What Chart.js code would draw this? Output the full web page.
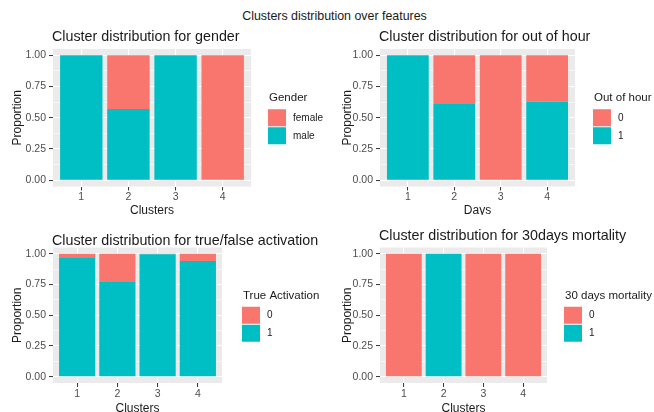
<!DOCTYPE html>
<html>
<head>
<meta charset="utf-8">
<script src="https://cdn.jsdelivr.net/npm/chart.js@4.4.1/dist/chart.umd.min.js"></script>
<style>
  body { margin: 0; background: #fff; width: 654px; height: 412px; overflow: hidden; position: relative; font-family: "Liberation Sans", Arial, sans-serif; }
  #main-title { position: absolute; left: 0; top: 8px; width: 669px; text-align: center; font-size: 12.4px; line-height: 16px; color: #1A1A1A; }
  .cell { position: absolute; width: 327px; overflow: hidden; }
  .cell canvas { display: block; }
</style>
</head>
<body>
<div id="main-title">Clusters distribution over features</div>
<div class="cell" style="left:0;top:24px;height:191px"><canvas id="c1" width="327" height="200"></canvas></div>
<div class="cell" style="left:327px;top:24px;height:191px"><canvas id="c2" width="327" height="200"></canvas></div>
<div class="cell" style="left:0;top:222px;height:190px"><canvas id="c3" width="327" height="200"></canvas></div>
<div class="cell" style="left:327px;top:222px;height:190px"><canvas id="c4" width="327" height="200"></canvas></div>
<script>
// categories and tick labels
const clusters = ['1', '2', '3', '4'];
const yTicks = [0, 0.25, 0.5, 0.75, 1];

// proportions (bottom segment = teal, top segment = red)
const genderMale = [1, 0.57, 1, 0];
const genderFemale = [0, 0.43, 0, 1];
const outOfHour1 = [1, 0.61, 0, 0.63];
const outOfHour0 = [0, 0.39, 1, 0.37];
const activation1 = [0.97, 0.77, 0.995, 0.94];
const activation0 = [0.03, 0.23, 0.005, 0.06];
const mortality1 = [0, 1, 0, 0];
const mortality0 = [1, 0, 1, 1];

const RED = '#F8766D';
const TEAL = '#00BFC4';
const FONT = '"Liberation Sans", Arial, sans-serif';

// minor grid lines sit halfway between the major ticks
const yGrid = [];
yTicks.forEach((v, i) => {
  yGrid.push(v);
  if (i < yTicks.length - 1) yGrid.push((v + yTicks[i + 1]) / 2);
});
const isMajor = v => yTicks.includes(v);

// ggplot look: grey panel, panel title and a side legend
const ggPanel = {
  id: 'ggPanel',
  beforeDraw(chart) {
    const { ctx, chartArea: a } = chart;
    ctx.save();
    ctx.fillStyle = '#EBEBEB';
    ctx.fillRect(a.left, a.top, a.right - a.left, a.bottom - a.top);
    ctx.restore();
  },
  afterDraw(chart, args, opts) {
    const { ctx, chartArea: a } = chart;
    ctx.save();
    ctx.fillStyle = '#1A1A1A';
    ctx.textBaseline = 'middle';
    ctx.textAlign = 'left';
    ctx.font = '14.3px ' + FONT;
    ctx.fillText(opts.title, a.left - 1, a.top + opts.titleDy);

    const lx = a.right + opts.legendDx;
    const mid = (a.top + a.bottom) / 2;
    ctx.font = '11.5px ' + FONT;
    ctx.fillText(opts.legendTitle, lx, mid - 19.5);
    const items = chart.data.datasets.slice().reverse();
    ctx.font = '10px ' + FONT;
    items.forEach((ds, i) => {
      const top = mid - 8.5 + i * 18;
      ctx.fillStyle = ds.backgroundColor;
      ctx.fillRect(lx - 1, top, 18, 17);
      ctx.fillStyle = '#1A1A1A';
      ctx.fillText(ds.label, lx + 24, top + 8.5);
    });
    ctx.restore();
  }
};

const toPoints = vals => vals.map((v, i) => ({ x: i + 1, y: v }));

function ggChart(id, p) {
  return new Chart(document.getElementById(id), {
    type: 'bar',
    data: {
      datasets: [
        { label: p.labels[1], data: toPoints(p.bottom), backgroundColor: TEAL, borderWidth: 0, barPercentage: 0.9, categoryPercentage: 1 },
        { label: p.labels[0], data: toPoints(p.top), backgroundColor: RED, borderWidth: 0, barPercentage: 0.9, categoryPercentage: 1 }
      ]
    },
    options: {
      responsive: false,
      animation: false,
      layout: { padding: { left: 0, top: p.padTop, right: p.padRight, bottom: 0 } },
      plugins: {
        legend: { display: false },
        tooltip: { enabled: false },
        ggPanel: { title: p.title, titleDy: p.titleDy, legendTitle: p.legendTitle, legendDx: p.legendDx }
      },
      scales: {
        x: {
          type: 'linear', stacked: true, min: 0.4, max: 4.6, offset: false,
          afterFit: s => { s.height = p.xAxisH; },
          afterBuildTicks: s => { s.ticks = clusters.map((c, i) => ({ value: i + 1 })); },
          ticks: { callback: v => clusters[v - 1], color: '#4D4D4D', font: { family: FONT, size: 10.5 }, padding: p.xTickPad, autoSkip: false, maxRotation: 0 },
          grid: { offset: false, color: '#FFFFFF', lineWidth: 1.1, tickColor: '#333333', tickLength: 4, tickWidth: 1 },
          border: { display: false },
          title: { display: true, text: p.xTitle, color: '#1A1A1A', font: { family: FONT, size: 12 }, padding: { top: 0, bottom: 5.8 } }
        },
        y: {
          stacked: true, min: -0.05, max: 1.05,
          afterFit: s => { s.width = 53; },
          afterBuildTicks: s => { s.ticks = yGrid.map(v => ({ value: v })); },
          ticks: { callback: v => isMajor(v) ? v.toFixed(2) : '', color: '#4D4D4D', font: { family: FONT, size: 10.5 }, padding: 3, autoSkip: false },
          grid: {
            color: '#FFFFFF',
            lineWidth: c => isMajor(c.tick.value) ? 1.1 : 0.55,
            tickColor: c => isMajor(c.tick.value) ? '#333333' : 'rgba(0,0,0,0)',
            tickLength: 4, tickWidth: 1
          },
          border: { display: false },
          title: { display: true, text: 'Proportion', color: '#1A1A1A', font: { family: FONT, size: 12 }, padding: { top: p.yTitlePad, bottom: 0 } }
        }
      }
    },
    plugins: [ggPanel]
  });
}

ggChart('c1', {
  title: 'Cluster distribution for gender', legendTitle: 'Gender', labels: ['female', 'male'],
  top: genderFemale, bottom: genderMale, xTitle: 'Clusters',
  padTop: 25, padRight: 76, xAxisH: 37.5, xTickPad: 0, titleDy: -12, legendDx: 18, yTitlePad: 10.8
});
ggChart('c2', {
  title: 'Cluster distribution for out of hour', legendTitle: 'Out of hour', labels: ['0', '1'],
  top: outOfHour0, bottom: outOfHour1, xTitle: 'Days',
  padTop: 25, padRight: 79, xAxisH: 37.5, xTickPad: 0, titleDy: -12, legendDx: 19, yTitlePad: 13.5
});
ggChart('c3', {
  title: 'Cluster distribution for true/false activation', legendTitle: 'True Activation', labels: ['0', '1'],
  top: activation0, bottom: activation1, xTitle: 'Clusters',
  padTop: 25.5, padRight: 105, xAxisH: 39, xTickPad: 1, titleDy: -6, legendDx: 21, yTitlePad: 10.8
});
ggChart('c4', {
  title: 'Cluster distribution for 30days mortality', legendTitle: '30 days mortality', labels: ['0', '1'],
  top: mortality0, bottom: mortality1, xTitle: 'Clusters',
  padTop: 25.5, padRight: 107, xAxisH: 39, xTickPad: 1, titleDy: -11.5, legendDx: 18, yTitlePad: 13.5
});
</script>
</body>
</html>
